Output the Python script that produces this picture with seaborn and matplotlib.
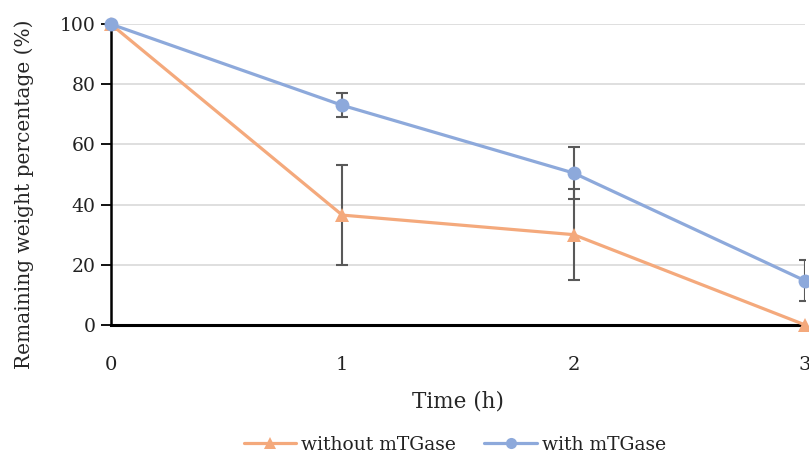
import matplotlib
matplotlib.use("Agg")
import matplotlib.pyplot as plt
import seaborn as sns
import pandas as pd

# time points (h)
time_h = [0, 1, 2, 3]

# remaining weight percentage (%)
without_mtg = [100, 36.5, 30, 0]
without_err = [0, 16.7, 15.2, 0]
with_mtg = [100, 73, 50.5, 14.7]
with_err = [0, 4, 8.7, 6.9]

labels = ["without mTGase", "with mTGase"]
colors = {"without mTGase": "#F4A97C", "with mTGase": "#8DA9DB"}

df = pd.DataFrame({
    "time": time_h * 2,
    "weight": without_mtg + with_mtg,
    "series": [labels[0]] * 4 + [labels[1]] * 4,
})

sns.set_style("white")
plt.rcParams["font.family"] = ["DejaVu Serif"]
plt.rcParams["text.color"] = "#222222"

fig = plt.figure(figsize=(8.09, 4.55), dpi=100)
ax = fig.add_axes([0.137, 0.286, 0.858, 0.661])

ax.set_axisbelow(True)
ax.yaxis.grid(True, color="#d9d9d9", linewidth=1.2)

# error bars first so markers sit on top
ax.errorbar(time_h, without_mtg, yerr=without_err, fmt="none",
            ecolor="#595959", elinewidth=1.5, capsize=4, capthick=1.5, zorder=2)
ax.errorbar(time_h, with_mtg, yerr=with_err, fmt="none",
            ecolor="#595959", elinewidth=1.5, capsize=4, capthick=1.5, zorder=2)

sns.lineplot(data=df, x="time", y="weight", hue="series", style="series",
             palette=colors, markers={labels[0]: "^", labels[1]: "o"},
             dashes=False, linewidth=2.3, markersize=10, markeredgewidth=0,
             ax=ax, zorder=3, clip_on=False)

ax.set_xlim(0, 3)
ax.set_ylim(0, 100)
ax.set_xticks(time_h)
ax.set_yticks([0, 20, 40, 60, 80, 100])
ax.tick_params(axis="y", which="both", left=True, length=7, width=1.3,
               color="black", labelsize=13.5, pad=4, labelcolor="#222222")
ax.tick_params(axis="x", bottom=False, labelsize=14, pad=19, labelcolor="#222222")

for side in ["top", "right"]:
    ax.spines[side].set_visible(False)
ax.spines["left"].set_color("black")
ax.spines["left"].set_linewidth(1.8)
ax.spines["bottom"].set_color("black")
ax.spines["bottom"].set_linewidth(2.2)

ax.set_xlabel("Time (h)", fontsize=15.5, labelpad=12)
ax.set_ylabel("Remaining weight percentage (%)", fontsize=14.5)
ax.yaxis.set_label_coords(-0.11, 0.435)

handles, lbls = ax.get_legend_handles_labels()
ax.get_legend().remove()
fig.legend(handles, lbls, loc="center", bbox_to_anchor=(0.5624, 0.022),
           ncol=2, frameon=False, fontsize=13.5, handlelength=2.8,
           columnspacing=1.5, handletextpad=0.27, markerscale=0.8)

fig.savefig("out.png", dpi=100)
